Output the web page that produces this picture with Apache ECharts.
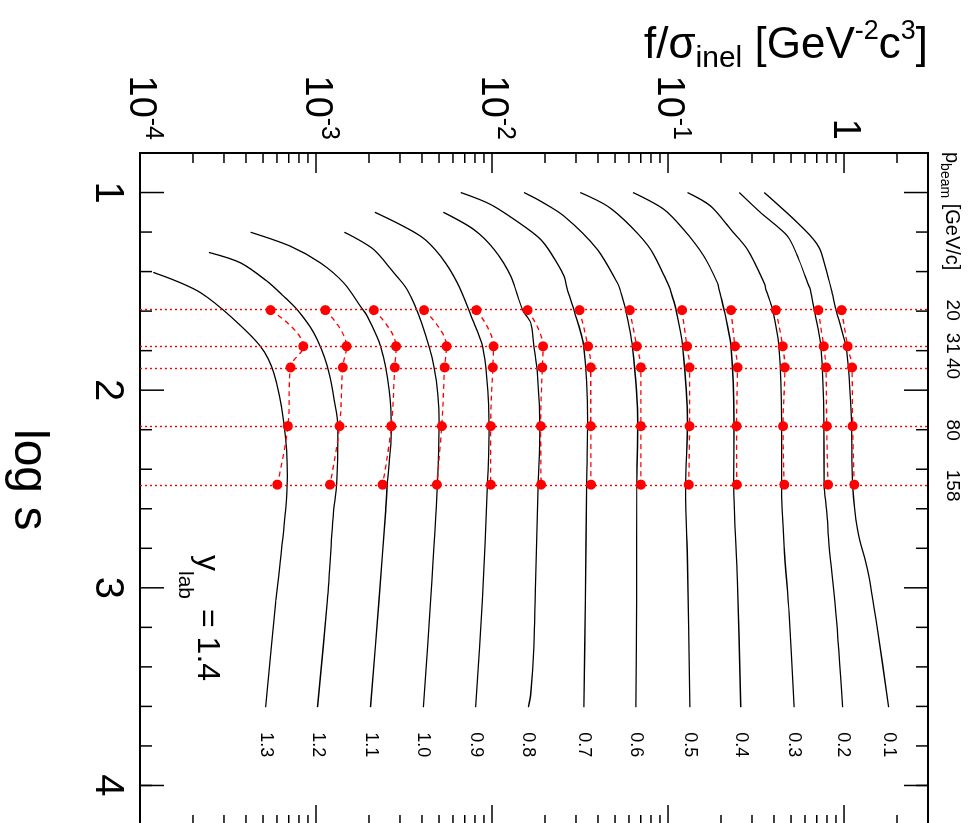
<!DOCTYPE html>
<html><head><meta charset="utf-8">
<script src="https://cdn.jsdelivr.net/npm/echarts@6/dist/echarts.min.js"></script>
<style>
html,body{margin:0;padding:0;width:969px;height:823px;overflow:hidden;background:#fff;}
#chart{position:absolute;left:0;top:0;width:830px;height:969px;transform-origin:0 0;transform:translate(969px,0) rotate(90deg);}
</style></head><body><div id="chart"></div>
<script>
// ---- axis ranges & ticks ----
const logsRange = [0.8, 4.2];
const fRange = [1e-4, 3];
const logsMajorTicks = [1, 2, 3, 4];
const logsMinorTicks = [1.2, 1.4, 1.6, 1.8, 2.2, 2.4, 2.6, 2.8, 3.2, 3.4, 3.6, 3.8, 4.0, 4.2];
const logsTickLabels = [1, 2, 3, 4];
const fMajorTicks = [1e-4, 1e-3, 1e-2, 1e-1, 1];
const fMantissas = [2, 3, 4, 5, 6, 7, 8, 9];
const fTickLabels = [1e-4, 1e-3, 1e-2, 1e-1, 1];

// ---- beam momenta ----
const pBeamLabels = ['20', '31', '40', '80', '158'];
const logsBeam = [1.595, 1.778, 1.885, 2.182, 2.478];

// ---- pT labels ----
const ptLabels = ['0.1','0.2','0.3','0.4','0.5','0.6','0.7','0.8','0.9','1.0','1.1','1.2','1.3'];

// ---- interpolated curves [log s, f] ----
const c01 = [[1.00,0.352],[1.137,0.521],[1.221,0.648],[1.289,0.732],[1.424,0.810],[1.492,0.848],[1.593,0.899],[1.779,1.025],[1.998,1.080],[2.167,1.105],[2.48,1.12],[2.708,1.195],[2.911,1.362],[3.215,1.552],[3.604,1.793]];
const c02 = [[1.00,0.254],[1.103,0.337],[1.145,0.384],[1.221,0.478],[1.323,0.545],[1.458,0.621],[1.492,0.643],[1.593,0.677],[1.779,0.739],[2.167,0.769],[2.48,0.770],[2.607,0.797],[2.793,0.824],[3.13,0.900],[3.604,0.982]];
const c03 = [[1.00,0.129],[1.069,0.175],[1.188,0.228],[1.289,0.283],[1.458,0.352],[1.492,0.360],[1.593,0.393],[1.779,0.427],[2.167,0.442],[2.48,0.442],[2.793,0.457],[3.13,0.488],[3.604,0.521]];
const c04 = [[1.00,0.0633],[1.086,0.0950],[1.188,0.123],[1.323,0.160],[1.458,0.191],[1.492,0.195],[1.593,0.208],[1.779,0.228],[2.167,0.237],[2.48,0.236],[2.961,0.248],[3.604,0.259]];
const c05 = [[1.00,0.0317],[1.069,0.0453],[1.171,0.0614],[1.289,0.0798],[1.458,0.0994],[1.492,0.103],[1.593,0.111],[1.779,0.121],[2.167,0.129],[2.48,0.126],[2.877,0.129],[3.604,0.133]];
const c06 = [[1.00,0.0152],[1.044,0.0189],[1.12,0.0257],[1.289,0.0397],[1.458,0.0516],[1.492,0.0534],[1.593,0.0575],[1.779,0.0628],[2.167,0.0673],[2.48,0.0665],[3.063,0.0663],[3.604,0.0656]];
const c07 = [[1.00,0.00664],[1.061,0.00983],[1.171,0.0152],[1.238,0.0189],[1.306,0.0216],[1.424,0.0257],[1.492,0.0268],[1.593,0.0292],[1.779,0.0332],[2.167,0.0349],[2.48,0.0345],[3.063,0.0339],[3.604,0.0333]];
const c08 = [[1.10,0.00529],[1.188,0.00790],[1.289,0.0103],[1.424,0.0128],[1.593,0.0149],[1.66,0.0166],[1.779,0.0173],[1.914,0.0181],[2.201,0.0187],[2.48,0.0183],[2.961,0.0177],[3.3,0.0173],[3.536,0.0166],[3.604,0.0161]];
const c09 = [[1.10,0.00216],[1.221,0.00393],[1.323,0.00511],[1.458,0.00636],[1.644,0.00777],[1.779,0.00884],[1.931,0.00933],[2.201,0.00962],[2.48,0.00942],[3.063,0.00882],[3.604,0.00808]];
const c10 = [[1.201,0.00145],[1.289,0.00213],[1.407,0.00277],[1.492,0.00330],[1.66,0.00398],[1.88,0.00468],[2.167,0.00500],[2.48,0.00489],[3.063,0.00448],[3.604,0.00407]];
const c11 = [[1.201,0.000425],[1.272,0.000717],[1.356,0.00106],[1.458,0.00144],[1.576,0.00179],[1.627,0.00196],[1.779,0.00233],[1.998,0.00260],[2.201,0.00268],[2.48,0.00254],[2.607,0.00249],[3.063,0.00228],[3.604,0.00204]];
const c12 = [[1.303,0.000246],[1.356,0.000373],[1.45,0.000529],[1.526,0.000657],[1.593,0.000783],[1.711,0.000973],[1.88,0.00116],[2.083,0.00129],[2.201,0.00133],[2.48,0.00131],[2.607,0.00126],[3.063,0.00116],[3.604,0.00102]];
const c13 = [[1.404,0.000119],[1.45,0.000163],[1.507,0.000221],[1.627,0.000327],[1.779,0.000484],[1.914,0.000576],[2.167,0.000657],[2.438,0.000687],[2.607,0.000672],[3.063,0.000592],[3.604,0.000517]];

// ---- measured points at the 5 beam momenta (f) ----
const d01 = [0.969, 1.048, 1.109, 1.119, 1.143];
const d02 = [0.713, 0.766, 0.789, 0.797, 0.810];
const d03 = [0.410, 0.448, 0.461, 0.450, 0.457];
const d04 = [0.228, 0.240, 0.248, 0.245, 0.246];
const d05 = [0.120, 0.128, 0.1325, 0.1325, 0.131];
const d06 = [0.0606, 0.0665, 0.0701, 0.0701, 0.0701];
const d07 = [0.0314, 0.0351, 0.0364, 0.0364, 0.0365];
const d08 = [0.0159, 0.0195, 0.0193, 0.0189, 0.0190];
const d09 = [0.00815, 0.0102, 0.0101, 0.00983, 0.00983];
const d10 = [0.00411, 0.00551, 0.00538, 0.00518, 0.00485];
const d11 = [0.00213, 0.00285, 0.00280, 0.00268, 0.00239];
const d12 = [0.00113, 0.00149, 0.00142, 0.00136, 0.00120];
const d13 = [0.000552, 0.000847, 0.000717, 0.000692, 0.000603];

const FF = '"Liberation Sans", Arial, Helvetica, sans-serif';
const curves = [c01,c02,c03,c04,c05,c06,c07,c08,c09,c10,c11,c12,c13];
const dots = [d01,d02,d03,d04,d05,d06,d07,d08,d09,d10,d11,d12,d13];
const beamLabelShift = [0, -3, 1, 4, 1];

const fMinorTicks = [];
[-4,-3,-2,-1,0].forEach(e => fMantissas.forEach(m => { const v = m * Math.pow(10, e); if (v < fRange[1]) fMinorTicks.push(v); }));

const chart = echarts.init(document.getElementById('chart'), null, {width: 830, height: 969, renderer: 'canvas'});

const series = [];
curves.forEach((c, i) => series.push({
  type: 'line', name: ptLabels[i], data: c, smooth: 0.3, symbol: 'none', showSymbol: false,
  lineStyle: {color: '#000', width: 1.3}, z: 2, silent: true,
  endLabel: {show: true, formatter: ptLabels[i], fontSize: 18, color: '#000', fontFamily: FF, distance: 25}
}));
dots.forEach((d, i) => series.push({
  type: 'line', data: logsBeam.map((ls, j) => [ls, d[j]]), smooth: 0.4,
  symbol: 'circle', symbolSize: 10, showSymbol: true, z: 4, silent: true,
  itemStyle: {color: '#ff0000'}, lineStyle: {color: '#ff0000', width: 1.3, type: [5, 4]}
}));
series.push({
  type: 'line', data: [], z: 3, silent: true,
  markLine: {silent: true, symbol: 'none', animation: false, label: {show: false},
    lineStyle: {color: '#ff0000', width: 1.4, type: [2, 3]},
    data: logsBeam.map(v => ({xAxis: v}))}
});
series.push({
  type: 'custom', data: [[2, 0.01]], clip: false, silent: true, z: 10,
  renderItem: (params, api) => {
    const ch = [];
    const add = (a, b) => ch.push({type: 'line', shape: {x1: a[0], y1: a[1], x2: b[0], y2: b[1]}, style: {stroke: '#000', lineWidth: 1.5}});
    const xt = (list, len) => list.forEach(v => {
      const b = api.coord([v, fRange[0]]); const t = api.coord([v, fRange[1]]);
      add(b, [b[0], b[1] - len]); add(t, [t[0], t[1] + len]);
    });
    const yt = (list, len) => list.forEach(v => {
      const l = api.coord([logsRange[0], v]); const r = api.coord([logsRange[1], v]);
      add(l, [l[0] + len, l[1]]); add(r, [r[0] - len, r[1]]);
    });
    xt(logsMajorTicks, 24); xt(logsMinorTicks, 12);
    yt(fMajorTicks, 20); yt(fMinorTicks, 10);
    return {type: 'group', children: ch};
  }
});

chart.setOption({
  animation: false,
  backgroundColor: '#fff',
  grid: {left: 153, right: 5, top: 41, bottom: 140, show: true, borderColor: '#000', borderWidth: 2, backgroundColor: 'transparent'},
  xAxis: {type: 'value', min: logsRange[0], max: logsRange[1], position: 'bottom',
    axisLine: {show: false}, axisTick: {show: false}, splitLine: {show: false},
    axisLabel: {customValues: logsTickLabels,
      formatter: v => (Math.abs(v - Math.round(v)) < 1e-9 ? String(Math.round(v)) : ''),
      fontSize: 40, color: '#000', fontFamily: FF, margin: 13}},
  yAxis: {type: 'log', logBase: 10, min: fRange[0], max: fRange[1], position: 'left',
    axisLine: {show: false}, axisTick: {show: false}, splitLine: {show: false},
    axisLabel: {customValues: fTickLabels, margin: 13, color: '#000',
      formatter: v => { const lv = Math.log10(v); const e = Math.round(lv); if (Math.abs(lv - e) > 1e-6) return ''; return e === 0 ? '{b|1}' : '{b|10}{s|' + e + '}'; },
      rich: {b: {fontSize: 38, lineHeight: 50, verticalAlign: 'middle', fontFamily: FF, color: '#000'},
             s: {fontSize: 25, lineHeight: 25, verticalAlign: 'top', fontFamily: FF, color: '#000'}}}},
  series: series
});

// ---- texts (positions from the chart scales) ----
const gr = [];
logsBeam.forEach((ls, i) => {
  const px = chart.convertToPixel({xAxisIndex: 0}, ls) + beamLabelShift[i];
  gr.push({type: 'text', x: px, y: 17, silent: true, style: {text: pBeamLabels[i], fontSize: 19, fontFamily: FF, fill: '#000', align: 'center', verticalAlign: 'middle'}});
});
gr.push({type: 'text', x: 152, y: 17, silent: true, style: {
  text: '{m|p}{s|beam}{m| [GeV/c]}', fontFamily: FF, fill: '#000', align: 'left', verticalAlign: 'middle',
  rich: {m: {fontSize: 20, lineHeight: 28, verticalAlign: 'middle', fontFamily: FF}, s: {fontSize: 14, lineHeight: 14, verticalAlign: 'bottom', fontFamily: FF}}}});
gr.push({type: 'text', x: 46, y: 41, rotation: Math.PI / 2, silent: true, style: {
  text: '{m|f/σ}{d|inel}{m| [GeV}{u|-2}{m|c}{u|3}{m|]}', fontFamily: FF, fill: '#000', align: 'right', verticalAlign: 'middle',
  rich: {m: {fontSize: 44, lineHeight: 56, verticalAlign: 'middle', fontFamily: FF},
         d: {fontSize: 30, lineHeight: 30, verticalAlign: 'bottom', fontFamily: FF},
         u: {fontSize: 27, lineHeight: 27, verticalAlign: 'top', fontFamily: FF}}}});
gr.push({type: 'text', x: 429, y: 941, silent: true, style: {text: 'log s', fontSize: 48, fontFamily: FF, fill: '#000', align: 'left', verticalAlign: 'middle'}});
gr.push({type: 'text', x: 555, y: 762, silent: true, style: {text: 'y', fontSize: 32, fontFamily: FF, fill: '#000', align: 'left', verticalAlign: 'middle'}});
gr.push({type: 'text', x: 571, y: 784, silent: true, style: {text: 'lab', fontSize: 21, fontFamily: FF, fill: '#000', align: 'left', verticalAlign: 'middle'}});
gr.push({type: 'text', x: 609, y: 762, silent: true, style: {text: '= 1.4', fontSize: 32, fontFamily: FF, fill: '#000', align: 'left', verticalAlign: 'middle'}});
chart.setOption({graphic: gr});
</script></body></html>
